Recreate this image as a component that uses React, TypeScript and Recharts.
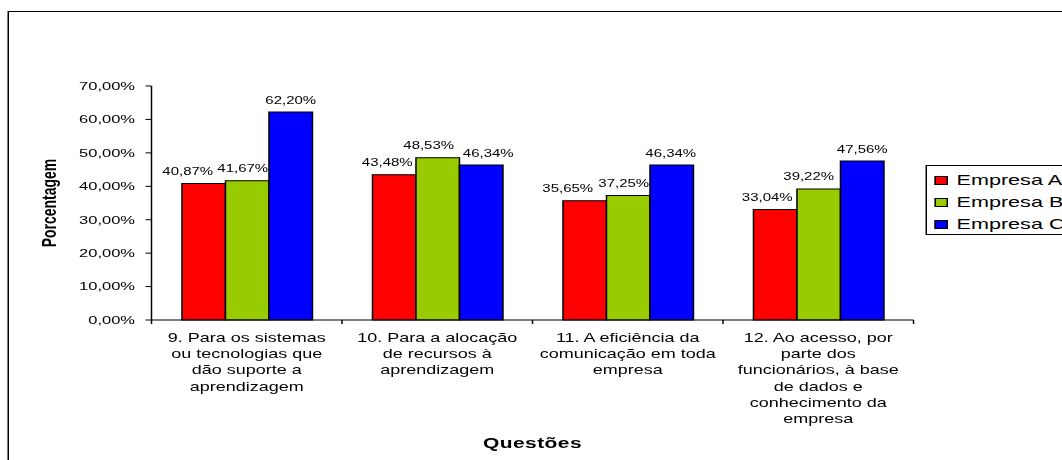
import { BarChart, Bar, XAxis, YAxis, Legend, LabelList, Label } from "recharts";

// question labels, one line per "\n"
const categories = [
  "9. Para os sistemas\nou tecnologias que\ndão suporte a\naprendizagem",
  "10. Para a alocação\nde recursos à\naprendizagem",
  "11. A eficiência da\ncomunicação em toda\nempresa",
  "12. Ao acesso, por\nparte dos\nfuncionários, à base\nde dados e\nconhecimento da\nempresa",
];

const empresaA = [40.87, 43.48, 35.65, 33.04];
const empresaB = [41.67, 48.53, 37.25, 39.22];
const empresaC = [62.2, 46.34, 46.34, 47.56];

const seriesNames = ["Empresa A", "Empresa B", "Empresa C"];
const seriesKeys = ["a", "b", "c"];
const seriesColors = ["#FF0000", "#99CC00", "#0000FF"];

const yTicks = [0, 10, 20, 30, 40, 50, 60, 70];

const data = categories.map((name, i) => ({
  name,
  a: empresaA[i],
  b: empresaB[i],
  c: empresaC[i],
}));

// the whole sheet is drawn narrow and stretched sideways, like the old spreadsheet export
const STRETCH = 1.5;
const W = 708;
const H = 460;
const FONT = '"Liberation Sans", Arial, sans-serif';

// sideways nudges (screen px) so neighbouring value labels don't collide
const labelNudge: Record<string, number[]> = {
  a: [-16, -7, -17, -8],
  b: [-4.5, -9, -4.5, -10],
  c: [0, 7, -1, 0],
};

const pct = (v: number) => v.toFixed(2).replace(".", ",") + "%";

function QuestionTick(props: any) {
  const { x, y, payload, index, width } = props;
  const half = payload.offset ?? width / (2 * categories.length);
  const axisY = y - 6;
  const lines = String(payload.value).split("\n");
  return (
    <g>
      <line x1={x - half} y1={axisY} x2={x - half} y2={axisY + 4} stroke="#000" />
      {index === categories.length - 1 && (
        <line x1={x + half} y1={axisY} x2={x + half} y2={axisY + 4} stroke="#000" />
      )}
      <text x={x} y={y} textAnchor="middle" fontSize={12} fill="#000" fontFamily={FONT}>
        {lines.map((l, i) => (
          <tspan key={i} x={x} dy={i === 0 ? 16 : 16.2}>
            {l}
          </tspan>
        ))}
      </text>
    </g>
  );
}

function valueLabel(key: string) {
  return (p: any) => {
    const dx = (labelNudge[key]?.[p.index] ?? 0) / STRETCH;
    return (
      <text
        x={p.x + p.width / 2 + dx}
        y={p.y - 8.5}
        textAnchor="middle"
        fontSize={10}
        fill="#000"
        fontFamily={FONT}
      >
        {pct(Number(p.value))}
      </text>
    );
  };
}

function SeriesLegend() {
  return (
    <div
      style={{
        border: "1px solid #000",
        boxSizing: "border-box",
        height: 70,
        width: 140,
        padding: "3px 0 0 5px",
        background: "#fff",
        fontFamily: FONT,
        fontSize: 14.4,
        color: "#000",
      }}
    >
      {seriesNames.map((n, i) => (
        <div key={n} style={{ display: "flex", alignItems: "center", height: 22 }}>
          <span
            style={{
              width: 7,
              height: 7,
              background: seriesColors[i],
              border: "1px solid #000",
              marginRight: 6,
            }}
          />
          <span>{n}</span>
        </div>
      ))}
    </div>
  );
}

export default function App() {
  return (
    <div
      style={{
        position: "absolute",
        left: 0,
        top: 0,
        width: 1062,
        height: H,
        overflow: "hidden",
        background: "#fff",
      }}
    >
      <div
        style={{
          position: "absolute",
          left: 0,
          top: 0,
          width: W,
          height: H,
          transform: `scaleX(${STRETCH})`,
          transformOrigin: "0 0",
          fontFamily: FONT,
        }}
      >
        <div
          style={{
            position: "absolute",
            left: 5.3,
            top: 11,
            width: 900,
            height: 600,
            border: "1.3px solid #000",
          }}
        />
        <BarChart
          width={W}
          height={H}
          data={data}
          margin={{ top: 86, right: 99, bottom: 10, left: 35 }}
          barCategoryGap="16%"
          barGap={0}
        >
          <XAxis
            dataKey="name"
            interval={0}
            height={130}
            tickSize={4}
            tickMargin={2}
            tickLine={false}
            axisLine={{ stroke: "#000" }}
            tick={<QuestionTick />}
          >
            <Label
              content={({ viewBox }: any) => (
                <text
                  x={viewBox.x + viewBox.width / 2}
                  y={viewBox.y + 128}
                  textAnchor="middle"
                  fontSize={14}
                  fontWeight="bold"
                  letterSpacing={0.3}
                  fill="#000"
                  fontFamily={FONT}
                >
                  Questões
                </text>
              )}
            />
          </XAxis>
          <YAxis
            width={66}
            domain={[0, 70]}
            ticks={yTicks}
            tickFormatter={pct}
            tickSize={4}
            tickMargin={7}
            tick={{ fontSize: 11, fill: "#000", fontFamily: FONT }}
            axisLine={{ stroke: "#000" }}
            tickLine={{ stroke: "#000" }}
          >
            <Label
              content={({ viewBox }: any) => {
                const cx = viewBox.x + 2.3;
                const cy = viewBox.y + viewBox.height / 2;
                return (
                  <text
                    x={cx}
                    y={cy}
                    transform={`rotate(-90 ${cx} ${cy})`}
                    textAnchor="middle"
                    fontSize={14}
                    fontWeight="bold"
                    fill="#000"
                    fontFamily={FONT}
                  >
                    Porcentagem
                  </text>
                );
              }}
            />
          </YAxis>
          <Legend
            layout="horizontal"
            align="center"
            verticalAlign="middle"
            wrapperStyle={{ left: 616.7, top: 165, width: 140, height: 70 }}
            content={() => <SeriesLegend />}
          />
          {seriesKeys.map((k, i) => (
            <Bar
              key={k}
              dataKey={k}
              name={seriesNames[i]}
              fill={seriesColors[i]}
              stroke="#000"
              strokeWidth={1}
              isAnimationActive={false}
            >
              <LabelList dataKey={k} content={valueLabel(k)} />
            </Bar>
          ))}
        </BarChart>
      </div>
    </div>
  );
}
